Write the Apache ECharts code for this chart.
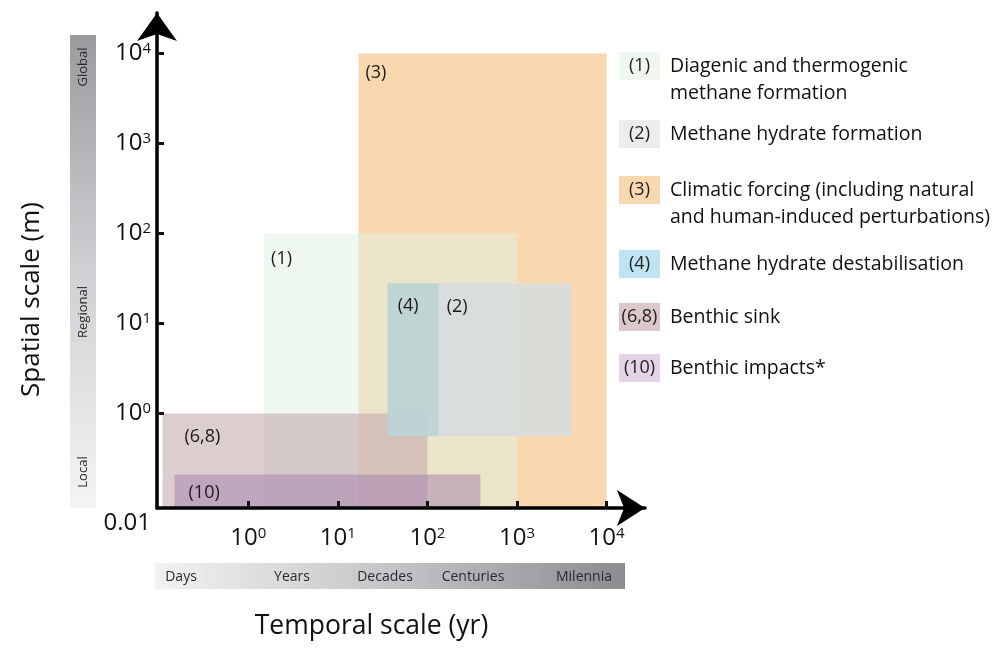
<!DOCTYPE html>
<html><head><meta charset="utf-8">
<script src="https://cdn.jsdelivr.net/npm/echarts@6/dist/echarts.min.js"></script>
<style>html,body{margin:0;padding:0;background:#fff}#c{width:997px;height:651px}</style>
</head><body><div id="c"></div>
<script>
// ---- data (real units) ----
const processNames = [
  'Diagenic and thermogenic\nmethane formation',
  'Methane hydrate formation',
  'Climatic forcing (including natural\nand human-induced perturbations)',
  'Methane hydrate destabilisation',
  'Benthic sink',
  'Benthic impacts*'
];
const processCodes = ['(1)', '(2)', '(3)', '(4)', '(6,8)', '(10)'];
const timeStart = [1.5, 36, 17, 36, 0.11, 0.15];        // yr
const timeEnd   = [1000, 4100, 10000, 133, 100, 390];   // yr
const spaceMin  = [0.01, 0.56, 0.01, 0.56, 0.01, 0.01]; // m
const spaceMax  = [100, 28, 10000, 28, 1, 0.21];        // m
const tickExponents = [0, 1, 2, 3, 4];
const originLabel = '0.01';
const spatialBands = ['Global', 'Regional', 'Local'];
const temporalBands = ['Days', 'Years', 'Decades', 'Centuries', 'Milennia'];

// ---- styles / layout ----
const FONT = '"Open Sans", "Noto Sans", sans-serif';
const fillColors = ['rgba(221,239,225,0.5)', 'rgba(214,220,223,0.85)', '#F9D8B0',
  'rgba(150,200,196,0.38)', 'rgba(197,172,175,0.6)', 'rgba(164,125,173,0.5)'];
const swatchColors = ['#EEF7F0', '#EBECEE', '#F9D8B0', '#BEE4F2', '#DCC8C8', '#E2D3E6'];
const labelOffsets = [[7, 25], [59, 24], [7, 19.5], [10, 23], [22, 23], [14, 18]];
const drawOrder = [2, 0, 4, 1, 3, 5];
const legendTops = [52, 120, 176, 250, 303, 354];

const chart = echarts.init(document.getElementById('c'));

const measureCtx = document.createElement('canvas').getContext('2d');
measureCtx.font = '18px ' + FONT;

const supLabel = v => '{b|10}{s|' + v + '}';
const labelRich = {
  b: { fontSize: 24, fontFamily: FONT, color: '#111' },
  s: { fontSize: 15, fontFamily: FONT, color: '#111', verticalAlign: 'top' },
  o: { fontSize: 24, fontFamily: FONT, color: '#111', padding: [30, 0, 0, 0] }
};

const series = drawOrder.map(i => ({
  type: 'custom',
  name: processNames[i],
  color: swatchColors[i],
  encode: { x: [0, 1], y: [2, 3] },
  data: [[Math.log10(timeStart[i]), Math.log10(timeEnd[i]), Math.log10(spaceMin[i]), Math.log10(spaceMax[i])]],
  renderItem: (params, api) => {
    const p0 = api.coord([api.value(0), api.value(3)]);
    const p1 = api.coord([api.value(1), api.value(2)]);
    const cs = params.coordSys;
    const r = echarts.graphic.clipRectByRect(
      { x: p0[0], y: p0[1], width: p1[0] - p0[0], height: p1[1] - p0[1] },
      { x: cs.x, y: cs.y, width: cs.width, height: cs.height });
    return {
      type: 'group',
      children: [
        { type: 'rect', shape: r, style: { fill: fillColors[i] } },
        { type: 'text', x: p0[0] + labelOffsets[i][0], y: p0[1] + labelOffsets[i][1],
          style: { text: processCodes[i], fontSize: 18, fontFamily: FONT, fill: '#1a1a1a', verticalAlign: 'middle' } }
      ]
    };
  }
}));

const legendRich = { g: { width: 10 }, sp: { width: 51 },
  t: { fontSize: 19.5, lineHeight: 26, fontFamily: FONT, color: '#111' } };
processCodes.forEach((c, i) => {
  const w = measureCtx.measureText(c).width;
  const pad = Math.max(0, (41 - w) / 2);
  legendRich['b' + i] = { backgroundColor: swatchColors[i], height: 28, padding: [0, pad, 0, pad],
    fontSize: 18, fontFamily: FONT, color: '#222' };
});
const legends = processNames.map((n, i) => ({
  data: [n], left: 614, top: legendTops[i], padding: 0, orient: 'vertical',
  icon: 'rect', itemWidth: 0, itemHeight: 0, selectedMode: false,
  formatter: name => {
    const lines = name.split('\n');
    let s = '{b' + i + '|' + processCodes[i] + '}{g|}{t|' + lines[0] + '}';
    for (let k = 1; k < lines.length; k++) s += '\n{sp|}{t|' + lines[k] + '}';
    return s;
  },
  textStyle: { rich: legendRich }
}));

const bandTextY = [67, 312, 472];
const bandTextX = [181, 292, 385, 473, 584];
const graphic = [
  { type: 'rect', x: 70, y: 35, shape: { width: 26, height: 473 }, silent: true,
    style: { fill: new echarts.graphic.LinearGradient(0, 0, 0, 1, [
      { offset: 0, color: '#9b9b9f' }, { offset: 0.5, color: '#cfd0d3' }, { offset: 1, color: '#f4f4f4' }]) } },
  { type: 'rect', x: 155, y: 563, shape: { width: 470, height: 26 }, silent: true,
    style: { fill: new echarts.graphic.LinearGradient(0, 0, 1, 0, [
      { offset: 0, color: '#f2f2f2' }, { offset: 0.5, color: '#c4c5c8' }, { offset: 1, color: '#8c8c90' }]) } }
];
spatialBands.forEach((t, k) => graphic.push({ type: 'text', x: 83, y: bandTextY[k], rotation: Math.PI / 2,
  style: { text: t, fontSize: 13, fontFamily: FONT, fill: '#2a2a2a', align: 'center', verticalAlign: 'middle' } }));
temporalBands.forEach((t, k) => graphic.push({ type: 'text', x: bandTextX[k], y: 577,
  style: { text: t, fontSize: 14, fontFamily: FONT, fill: '#2a2a2a', align: 'center', verticalAlign: 'middle' } }));

const axisCommon = {
  type: 'value', z: 10, splitLine: { show: false },
  axisTick: { show: true, inside: true, length: 7, customValues: tickExponents, lineStyle: { color: '#111', width: 3 } }
};

chart.setOption({
  backgroundColor: '#fff',
  animation: false,
  textStyle: { fontFamily: FONT },
  grid: { left: 157, right: 352, top: 13, bottom: 143, containLabel: false, outerBoundsMode: 'none' },
  xAxis: Object.assign({}, axisCommon, {
    min: -1.02, max: 4.43,
    axisLine: { show: true, onZero: false, symbol: ['none', 'arrow'], symbolSize: [27, 28], lineStyle: { color: '#000', width: 3.5 } },
    axisLabel: { customValues: tickExponents, margin: 18, formatter: v => supLabel(v), rich: labelRich },
    name: 'Temporal scale (yr)', nameLocation: 'middle', nameGap: 105,
    nameTextStyle: { fontSize: 26.5, fontFamily: FONT, color: '#111', padding: [0, 59, 0, 0] }
  }),
  yAxis: Object.assign({}, axisCommon, {
    min: -1.05, max: 4.45,
    axisLine: { show: true, onZero: false, symbol: ['none', 'arrow'], symbolSize: [30, 28], lineStyle: { color: '#000', width: 3.5 } },
    axisLabel: { customValues: [-1.05].concat(tickExponents), margin: 6,
      formatter: v => v < -0.5 ? '{o|' + originLabel + '}' : supLabel(v), rich: labelRich },
    name: 'Spatial scale (m)', nameLocation: 'middle', nameGap: 112,
    nameTextStyle: { fontSize: 26, fontFamily: FONT, color: '#111', padding: [0, 78, 0, 0] }
  }),
  legend: legends,
  graphic: graphic,
  series: series
});
</script></body></html>
